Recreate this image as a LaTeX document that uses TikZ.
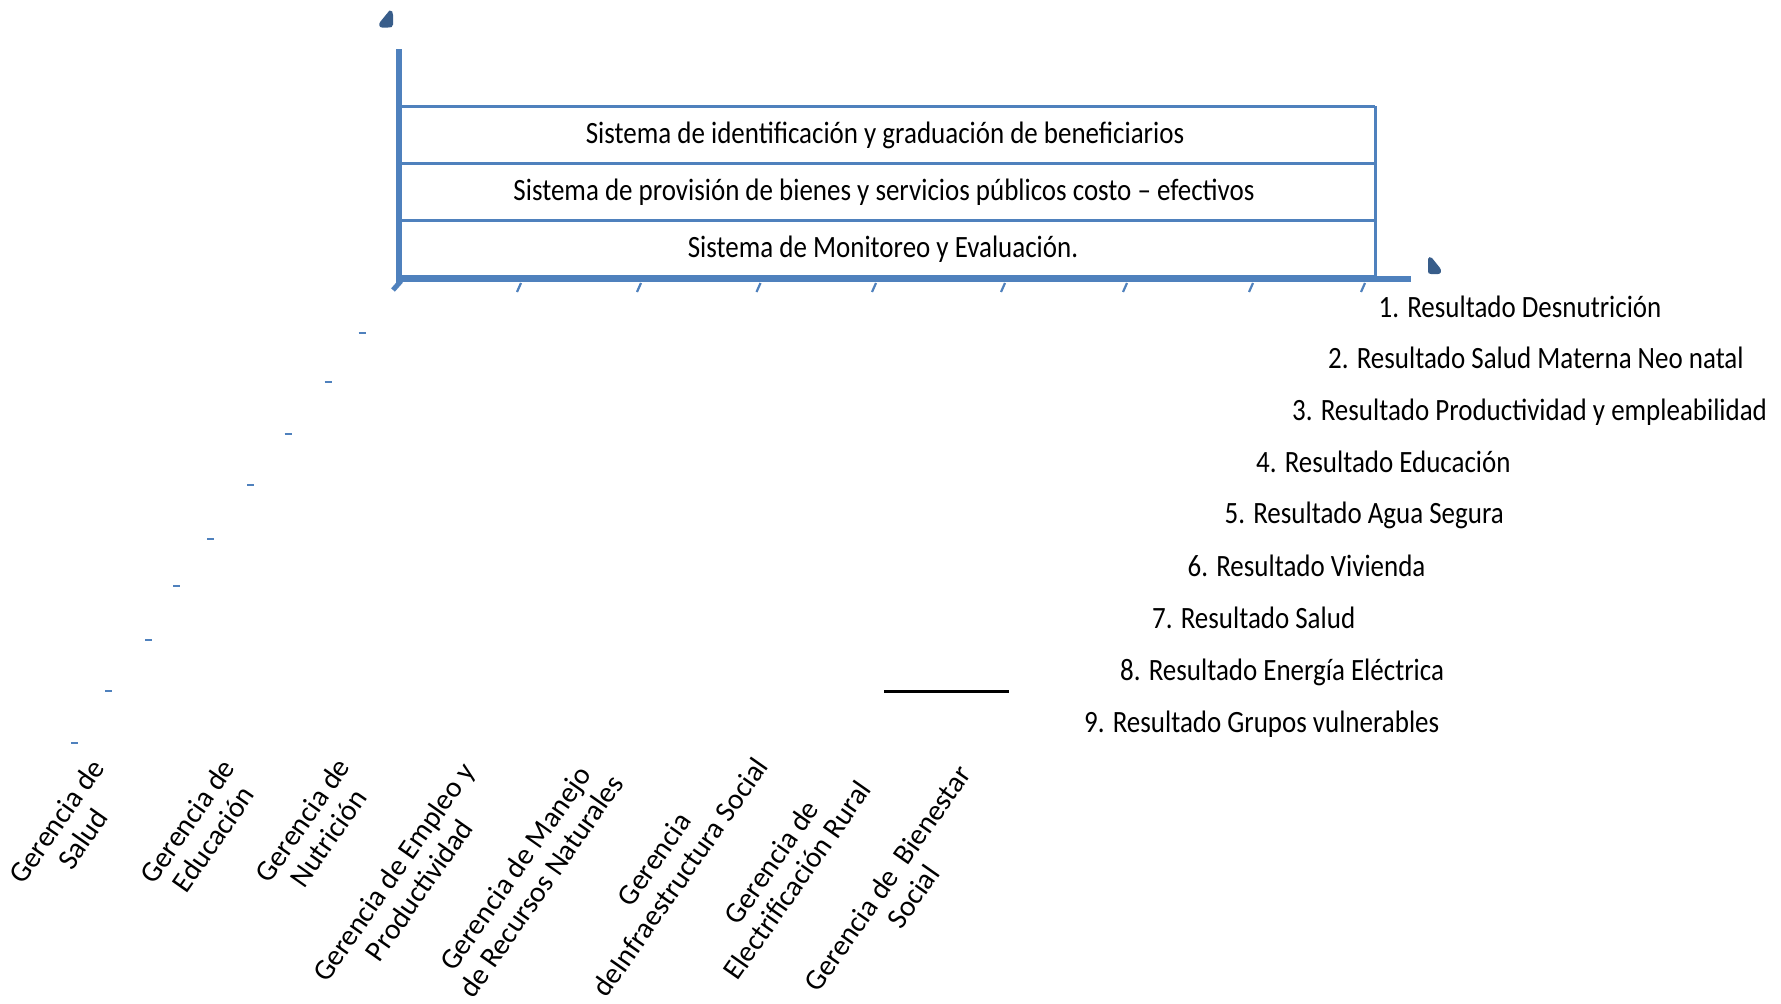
\documentclass[tikz,border=0pt]{standalone}
\usepackage{fontspec}
\setmainfont{Carlito}
\newfontfamily\condfont[FakeStretch=0.87]{Carlito}
\definecolor{axisblue}{HTML}{4F81BD}
\definecolor{blobblue}{HTML}{385D8A}
\begin{document}
\begin{tikzpicture}[x=1pt,y=-1pt,
  axisline/.style={draw=axisblue, line width=6pt},
  boxline/.style={draw=axisblue, line width=3pt},
  tickmark/.style={draw=axisblue, line width=2.2pt},
  cornertick/.style={draw=axisblue, line width=5pt},
  dashmark/.style={draw=axisblue, line width=2pt},
  blob/.style={fill=blobblue},
  systxt/.style={font=\condfont\fontsize{31}{36}\selectfont, anchor=base, inner sep=0pt},
  restxt/.style={font=\condfont\fontsize{31}{36}\selectfont, anchor=base west, inner sep=0pt},
  gertxt/.style={font=\fontsize{29.3}{31.5}\selectfont, rotate=55, align=center, inner sep=0pt}]
\useasboundingbox[fill=white] (0,0) rectangle (1781,1004);

% coordinates of the frame
\coordinate (ytop) at (399,49);
\coordinate (ybot) at (399,283);
\coordinate (xleft) at (396,279);
\coordinate (xright) at (1411,279);
\coordinate (bl1) at (399,106);  \coordinate (br1) at (1375,106);
\coordinate (bl2) at (399,163);  \coordinate (br2) at (1375,163);
\coordinate (bl3) at (399,220);  \coordinate (br3) at (1375,220);
\coordinate (bl4) at (399,276);  \coordinate (br4) at (1375,276);

% box lines
\draw[boxline] (bl1) -- (br1);
\draw[boxline] (bl2) -- (br2);
\draw[boxline] (bl3) -- (br3);
\draw[boxline] (bl4) -- (br4);
\draw[boxline] (br1) -- (br4);

% axes
\draw[axisline] (ytop) -- (ybot);
\draw[axisline] (xleft) -- (xright);

% ticks
\draw[cornertick] (401,281) -- (393,290);
\foreach \tx in {519,639,758.5,874,1003,1125,1251,1363}{
  \draw[tickmark] (\tx+2,283) -- (\tx-2,292);
}

% arrow blobs
\fill[blob] (389.5,10.5) .. controls (392,10) and (393,12) .. (393,15) -- (393,24.5)
  .. controls (393,27.5) and (391,27.5) .. (388,27.5) -- (382,27.5)
  .. controls (379,27.5) and (378.5,24) .. (380.5,21.5) -- cycle;
\fill[blob] (1428,259) .. controls (1428,257) and (1430.5,256.5) .. (1432,258) -- (1440,268)
  .. controls (1442,271) and (1441,274) .. (1438,274) -- (1431,274)
  .. controls (1428.5,274) and (1428,273) .. (1428,271) -- cycle;

% left dashes
\foreach \dx/\dy in {362/333,328/382,288/434,250.5/485,210.5/539,176.5/586,148.5/640,108.5/691,74.5/743}{
  \draw[dashmark] (\dx-3.5,\dy) -- (\dx+3.5,\dy);
}

% black line
\coordinate (bla) at (884,691);
\coordinate (blb) at (1009,691);
\draw[black, line width=3pt] (bla) -- (blb);

% system texts
\node[systxt] (s1) at (885,143) {Sistema de identificación y graduación de beneficiarios};
\node[systxt] (s2) at (884,200) {Sistema de provisión de bienes y servicios públicos costo – efectivos};
\node[systxt] (s3) at (883,257.5) {Sistema de Monitoreo y Evaluación.};

% results
\node[restxt] (r1) at (1378.5,317) {1. Resultado Desnutrición};
\node[restxt] (r2) at (1328,368) {2. Resultado Salud Materna Neo natal};
\node[restxt] (r3) at (1292,420) {3. Resultado Productividad y empleabilidad};
\node[restxt] (r4) at (1256,472) {4. Resultado Educación};
\node[restxt] (r5) at (1224.5,523) {5. Resultado Agua Segura};
\node[restxt] (r6) at (1187.5,576) {6. Resultado Vivienda};
\node[restxt] (r7) at (1152,628) {7. Resultado Salud};
\node[restxt] (r8) at (1120,680) {8. Resultado Energía Eléctrica};
\node[restxt] (r9) at (1084,732) {9. Resultado Grupos vulnerables};

% gerencias
\node[gertxt] (g1) at (69.5,830) {Gerencia de\\Salud};
\node[gertxt] (g2) at (200,830) {Gerencia de\\Educación};
\node[gertxt] (g3) at (315,829) {Gerencia de\\Nutrición};
\node[gertxt] (g4) at (406,881) {Gerencia de Empleo y\\Productividad};
\node[gertxt] (g5) at (528,877) {Gerencia de Manejo\\de Recursos Naturales};
\node[gertxt] (g6) at (667,868) {Gerencia\\deInfraestructura Social};
\node[gertxt] (g7) at (784,871) {Gerencia de\\Electrificación Rural};
\node[gertxt] (g8) at (900,887.5) {Gerencia de\ \ Bienestar\\Social};
\end{tikzpicture}
\end{document}
